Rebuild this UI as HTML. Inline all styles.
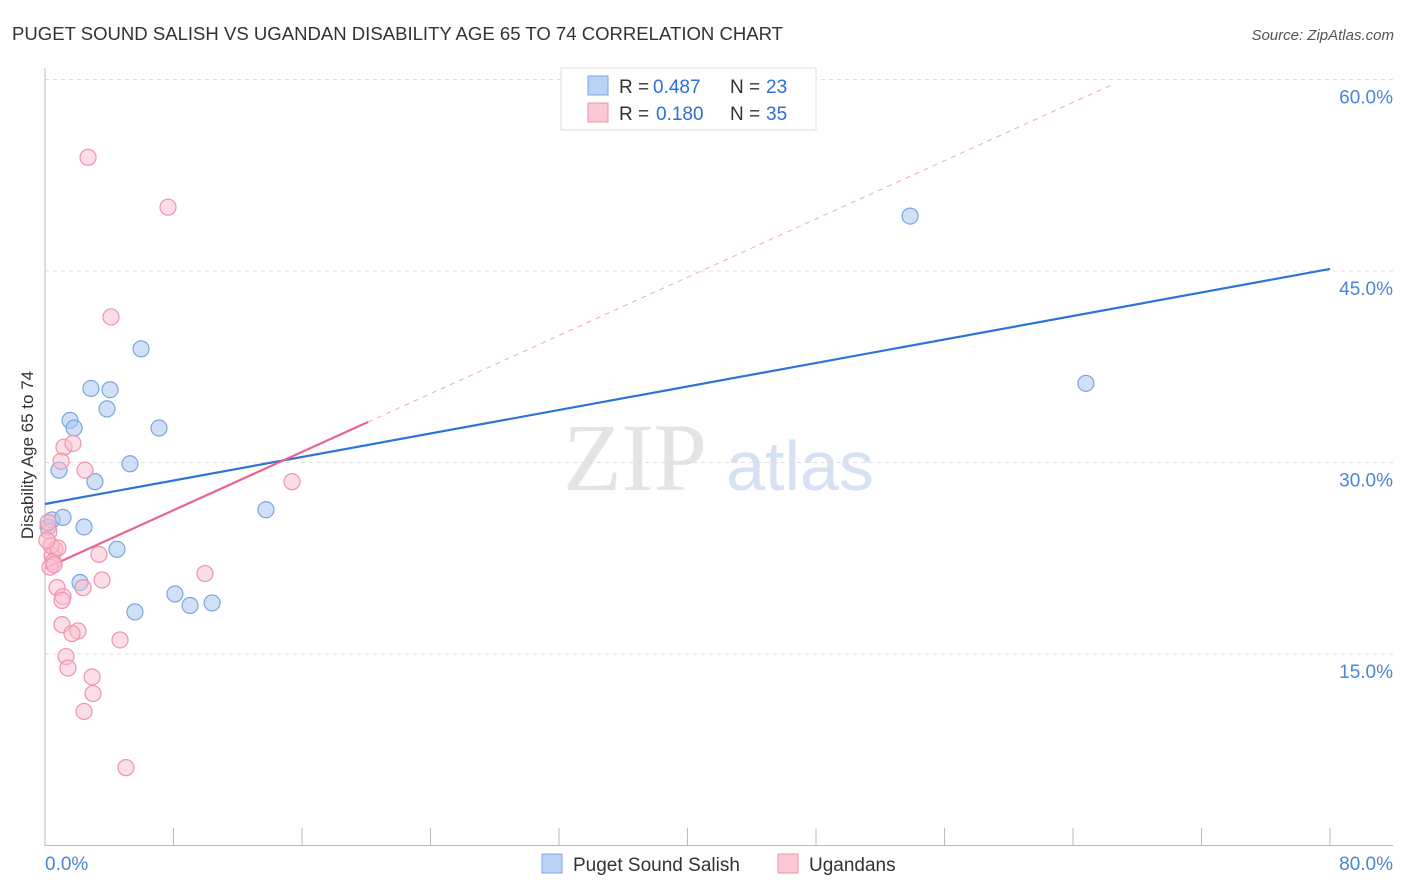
<!DOCTYPE html>
<html><head><meta charset="utf-8"><style>
body{margin:0;background:#fff;font-family:"Liberation Sans",sans-serif;}
svg{display:block}
</style></head><body>
<svg id="chart" width="1406" height="892">
<text x="12" y="40" font-size="18" fill="#333" textLength="771" lengthAdjust="spacingAndGlyphs">PUGET SOUND SALISH VS UGANDAN DISABILITY AGE 65 TO 74 CORRELATION CHART</text>
<text x="1394" y="40" font-size="15" fill="#555" text-anchor="end" font-style="italic">Source: ZipAtlas.com</text>
<text x="635" y="490" font-size="96" fill="#e4e4e4" text-anchor="middle" font-family="Liberation Serif,serif">ZIP</text>
<text x="800" y="490" font-size="70" fill="#d6e2f3" text-anchor="middle">atlas</text>
<g id="grid"></g>
<g id="axes"></g>
<g id="lines"></g>
<g id="points"></g>
<text transform="translate(33,455) rotate(-90)" font-size="17" fill="#333" text-anchor="middle">Disability Age 65 to 74</text>
<g>
<rect x="561" y="68" width="255" height="62" fill="#fff" stroke="#ddd"/>
<rect x="588" y="76" width="20" height="19" fill="#b8d3f5" stroke="#7aa6e0"/>
<text x="619" y="93" font-size="19" fill="#333">R =</text>
<text x="653" y="93" font-size="19" fill="#2d6fd6">0.487</text>
<text x="730" y="93" font-size="19" fill="#333">N =</text>
<text x="766" y="93" font-size="19" fill="#2d6fd6">23</text>
<rect x="588" y="103" width="20" height="19" fill="#fbc8d6" stroke="#ee93ae"/>
<text x="619" y="120" font-size="19" fill="#333">R =</text>
<text x="656" y="120" font-size="19" fill="#2d6fd6">0.180</text>
<text x="730" y="120" font-size="19" fill="#333">N =</text>
<text x="766" y="120" font-size="19" fill="#2d6fd6">35</text>
</g>
<g>
<rect x="542" y="854" width="20" height="19" fill="#b8d3f5" stroke="#7aa6e0"/>
<text x="573" y="871" font-size="19" fill="#333">Puget Sound Salish</text>
<rect x="778" y="854" width="20" height="19" fill="#fbc8d6" stroke="#ee93ae"/>
<text x="809" y="871" font-size="19" fill="#333">Ugandans</text>
</g>
</svg>
<script>
const blueX=[0.19,0.44,0.87,1.12,1.56,1.81,2.18,2.43,2.86,3.11,3.86,4.05,4.48,5.29,5.60,5.98,7.10,8.09,9.03,10.4,13.76,53.86,64.8];
const blueY=[24.95,25.5,29.4,25.7,33.3,32.7,20.6,24.95,35.8,28.5,34.2,35.7,23.2,29.9,18.3,38.9,32.7,19.7,18.8,19.0,26.3,49.3,36.2];
const pinkX=[2.68,7.66,4.11,1.18,1.74,1.0,2.49,15.38,3.36,0.62,0.44,0.5,0.31,0.56,0.75,2.37,3.55,9.96,1.12,1.06,1.06,2.05,1.68,4.67,1.31,1.43,2.93,2.99,2.43,5.04,0.25,0.37,0.81,0.12,0.19];
const pinkY=[53.9,50.0,41.4,31.2,31.5,30.1,29.4,28.5,22.8,23.2,22.7,22.2,21.8,22.0,20.2,20.2,20.8,21.3,19.5,19.2,17.3,16.8,16.6,16.1,14.8,13.9,13.2,11.9,10.5,6.1,24.6,23.5,23.3,23.9,25.3];
const yTicks=[15,30,45,60];
const yTickLabels=["15.0%","30.0%","45.0%","60.0%"];
const xTicks=[0,8,16,24,32,40,48,56,64,72,80];
const blueTrend=[26.75,45.16];
const pinkTrend=[21.7,33.17];
const pinkSolidEnd=20.11, pinkDashEnd=66.6;
const NS="http://www.w3.org/2000/svg";
const X=v=>45+v/80*1285, Y=v=>845.5-v/15*191.5;
function mk(parent,tag,attrs){const e=document.createElementNS(NS,tag);for(const k in attrs)e.setAttribute(k,attrs[k]);document.getElementById(parent).appendChild(e);return e;}
yTicks.forEach((t,i)=>{
 const g=mk('grid','line',{x1:45,x2:1393,y1:Y(t),y2:Y(t),stroke:'#ddd','stroke-dasharray':'4,4'});
 
 
 const l=mk('grid','text',{x:1393,y:Y(t)+24,'font-size':19,fill:'#4a86d8','text-anchor':'end'});
 l.textContent=yTickLabels[i];
 
 
});
const ax=mk('axes','line',{x1:45,x2:45,y1:68,y2:846,stroke:'#bbb'});


const bx=mk('axes','line',{x1:45,x2:1393,y1:845.5,y2:845.5,stroke:'#bbb'});


xTicks.forEach(t=>{const e=mk('axes','line',{x1:X(t),x2:X(t),y1:828,y2:846,stroke:'#bbb'});
 
 });
const xl0=mk('axes','text',{x:45,y:870,'font-size':19,fill:'#4a86d8'});xl0.textContent=xTicks[0].toFixed(1)+'%';


const xl1=mk('axes','text',{x:1393,y:870,'font-size':19,fill:'#4a86d8','text-anchor':'end'});xl1.textContent=xTicks[xTicks.length-1].toFixed(1)+'%';


const pslope=(pinkTrend[1]-pinkTrend[0])/pinkSolidEnd;
const pd=mk('lines','line',{x1:X(pinkSolidEnd),y1:Y(pinkTrend[1]),x2:X(pinkDashEnd),y2:Y(pinkTrend[0]+pslope*pinkDashEnd),stroke:'#f0a8bd','stroke-dasharray':'5,5'});


const bt=mk('lines','line',{x1:X(0),y1:Y(blueTrend[0]),x2:X(80),y2:Y(blueTrend[1]),stroke:'#2d74d6','stroke-width':2.2});


const pt=mk('lines','line',{x1:X(0),y1:Y(pinkTrend[0]),x2:X(pinkSolidEnd),y2:Y(pinkTrend[1]),stroke:'#e8648e','stroke-width':2.2});


blueX.forEach((v,i)=>{const c=mk('points','circle',{cx:X(v),cy:Y(blueY[i]),r:8,fill:'rgba(170,200,240,0.55)',stroke:'#7aa6e0','stroke-width':1.2});
 
 });
pinkX.forEach((v,i)=>{const c=mk('points','circle',{cx:X(v),cy:Y(pinkY[i]),r:8,fill:'rgba(250,190,208,0.5)',stroke:'#ee93ae','stroke-width':1.2});
 
 });
</script>
</body></html>
